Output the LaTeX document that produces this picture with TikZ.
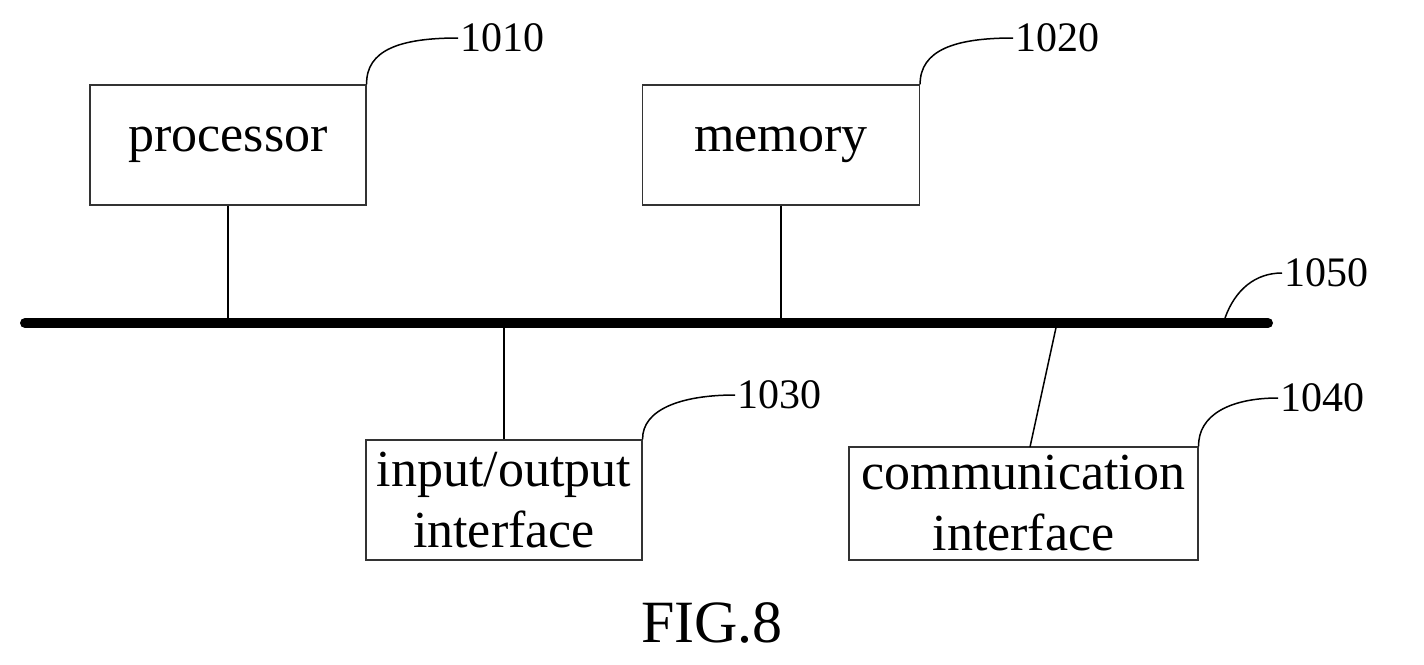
\documentclass[tikz,border=0pt]{standalone}
\usepackage{fontspec}
\setmainfont{Liberation Serif}
\begin{document}
\begin{tikzpicture}[x=1pt,y=-1pt,
  box/.style={draw=black!80,line width=1.2pt,inner sep=0pt,align=center,font=\fontsize{52}{61}\selectfont},
  lbl/.style={font=\fontsize{42}{46}\selectfont,anchor=west,inner sep=2pt},
  ln/.style={line width=1.5pt}]
\useasboundingbox (0,0) rectangle (1424,664);
\node[box,minimum width=276pt,minimum height=120pt] (p) at (228,145) {\raisebox{-11pt}{processor}};
\node[box,minimum width=277pt,minimum height=120pt] (m) at (781,145) {\raisebox{-11pt}{memory}};
\node[box,minimum width=276pt,minimum height=120pt] (io) at (504,500) {input/output\\interface};
\node[box,minimum width=349pt,minimum height=113pt] (c) at (1023.5,503.5) {communication\\interface};
\coordinate (b1) at (25,323); \coordinate (b2) at (1268,323);
\draw[line width=10pt,line cap=round] (b1) -- (b2);
\draw[ln] (p.south) -- (p.south |- b1);
\draw[ln] (m.south) -- (m.south |- b1);
\draw[ln] (io.north) -- (io.north |- b1);
\coordinate (cb) at (1057,323);
\draw[ln] (cb) -- (1030,447);
\node[lbl] (l1) at (458,38) {1010};
\node[lbl] (l2) at (1013,38) {1020};
\node[lbl] (l5) at (1282,273) {1050};
\node[lbl] (l3) at (735,395) {1030};
\node[lbl] (l4) at (1278,398) {1040};
\draw[ln] (p.north east) .. controls (366,50) and (400,38) .. (l1.west);
\draw[ln] (m.north east) .. controls (920,50) and (955,38) .. (l2.west);
\draw[ln] (1225,318) .. controls (1235,290) and (1255,273) .. (l5.west);
\draw[ln] (io.north east) .. controls (642,410) and (680,395) .. (l3.west);
\draw[ln] (c.north east) .. controls (1198,415) and (1230,398) .. (l4.west);
\node[font=\fontsize{60}{66}\selectfont] (fig) at (712,623) {FIG.8};
\end{tikzpicture}
\end{document}
